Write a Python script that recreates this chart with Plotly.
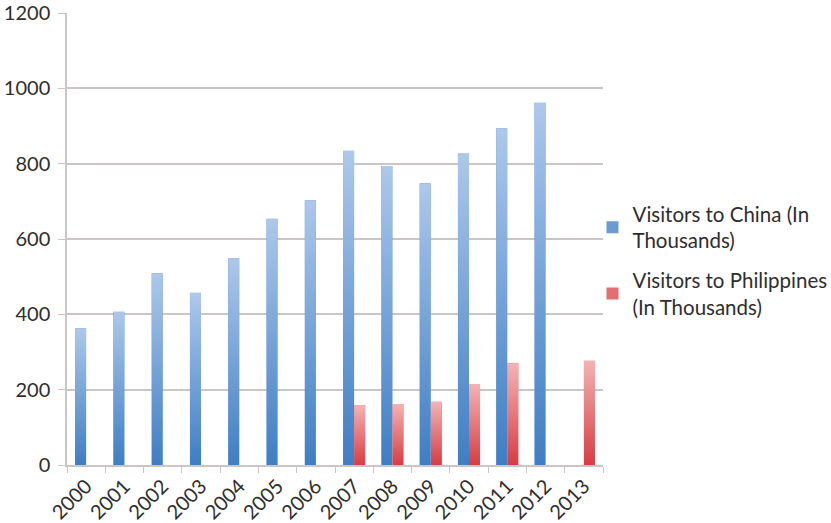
import base64
import plotly.graph_objects as go

years = [str(y) for y in range(2000, 2014)]
china = [363, 407, 509, 457, 549, 654, 703, 834, 794, 748, 827, 894, 962, None]
philippines = [None, None, None, None, None, None, None, 159, 162, 168, 215, 270, None, 277]

FONT = "Lato"
TEXT = "#2e2e2e"
GRID = "#cbc6c6"
BAR_W = 0.29

# (series values, legend name, group id, solid colour, gradient top, gradient bottom, bar offset)
series = [
    (china, "Visitors to China (In<br>Thousands)", "china", "#6c9bd4", "#adc8ea", "#3e7ec4", -BAR_W),
    (philippines, "Visitors to Philippines<br>(In Thousands)", "phil", "#e46f73", "#f3b3b4", "#d63d43", 0.0),
]


def gradient_svg(top, bottom):
    svg = (
        "<svg xmlns='http://www.w3.org/2000/svg' width='10' height='100' "
        "viewBox='0 0 10 100' preserveAspectRatio='none'>"
        "<defs><linearGradient id='g' x1='0' y1='0' x2='0' y2='1'>"
        f"<stop offset='0' stop-color='{top}'/><stop offset='1' stop-color='{bottom}'/>"
        "</linearGradient></defs><rect width='10' height='100' fill='url(#g)'/></svg>"
    )
    return "data:image/svg+xml;base64," + base64.b64encode(svg.encode()).decode()


fig = go.Figure()
images = []
for values, name, group, solid, top, bottom, offset in series:
    fig.add_trace(go.Bar(
        x=years, y=values, name=name, legendgroup=group,
        width=BAR_W, offset=offset,
        marker=dict(color=solid, line=dict(width=0)),
    ))
    # vertical shading laid over each bar, spanning the bar's own height
    src = gradient_svg(top, bottom)
    for i, v in enumerate(values):
        if v is None:
            continue
        images.append(dict(
            source=src, xref="x", yref="y",
            x=i + offset, y=0, sizex=BAR_W, sizey=v,
            xanchor="left", yanchor="bottom", sizing="stretch", layer="above",
        ))

fig.update_layout(
    width=831, height=523,
    margin=dict(l=67, r=228, t=13, b=58, autoexpand=False),
    paper_bgcolor="white", plot_bgcolor="white",
    barmode="overlay",
    images=images,
    font=dict(family=FONT, size=20, color=TEXT),
    showlegend=True,
    legend=dict(
        xref="container", yref="container",
        x=0.713, y=0.629, xanchor="left", yanchor="top",
        font=dict(family=FONT, size=20.5, color=TEXT),
        bgcolor="rgba(0,0,0,0)", tracegroupgap=10,
        itemwidth=30,
    ),
    xaxis=dict(
        type="category", range=[-0.5, 13.5], automargin=False,
        tickangle=-45, tickson="boundaries", ticks="outside", ticklen=6,
        tickcolor=GRID, showline=True, linecolor=GRID, linewidth=1.5,
        showgrid=False, tickfont=dict(family=FONT, size=20, color=TEXT),
    ),
    yaxis=dict(
        range=[0, 1200], dtick=200, ticks="outside", ticklen=7, automargin=False,
        tickcolor=GRID, showline=True, linecolor=GRID, linewidth=1.5,
        showgrid=True, gridcolor=GRID, gridwidth=1.5, zeroline=False,
        tickfont=dict(family=FONT, size=20, color=TEXT),
        ticklabelstandoff=4,
    ),
)

fig.write_html("out.html")
